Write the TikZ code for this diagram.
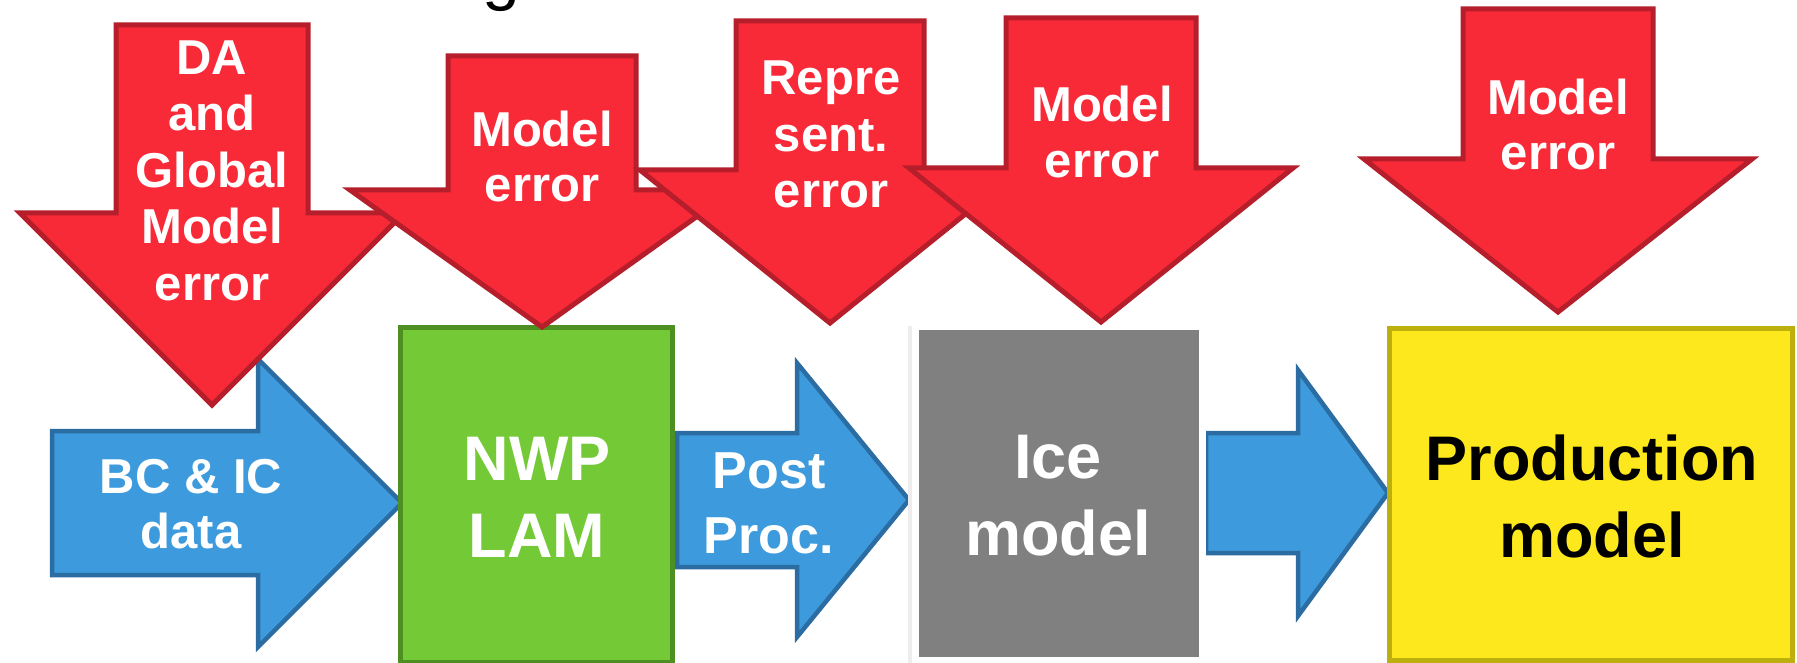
\documentclass[tikz,border=0pt]{standalone}
\usepackage{fontspec}
\setmainfont{Liberation Sans}
\definecolor{redfill}{HTML}{F92A38}
\definecolor{redline}{HTML}{B51E2A}
\definecolor{bluefill}{HTML}{3D9BDD}
\definecolor{blueline}{HTML}{2B6CA3}
\definecolor{greenfill}{HTML}{74C936}
\definecolor{greenline}{HTML}{4E8F22}
\definecolor{grayfill}{HTML}{808080}
\definecolor{yellowfill}{HTML}{FCE81C}
\definecolor{yellowline}{HTML}{BDB00E}
\newcommand{\dnarrow}[7]{%
  \draw[#1] ({#2-#3},#4) -- ({#2+#3},#4) -- ({#2+#3},#5) -- ({#2+#6},#5) -- (#2,#7) -- ({#2-#6},#5) -- ({#2-#3},#5) -- cycle;}
\newcommand{\rtarrow}[7]{%
  \draw[#1] (#4,{#2-#3}) -- (#5,{#2-#3}) -- (#5,{#2-#6}) -- (#7,#2) -- (#5,{#2+#6}) -- (#5,{#2+#3}) -- (#4,{#2+#3}) -- cycle;}
\tikzset{
  redarr/.style={fill=redfill, draw=redline, line width=5pt, line join=miter},
  bluearr/.style={fill=bluefill, draw=blueline, line width=4.5pt, line join=miter},
  redtxt/.style={text=white, align=center, anchor=base, inner sep=0pt, font=\fontsize{49}{56.5}\selectfont\bfseries},
  bluetxt/.style={text=white, align=center, anchor=base, inner sep=0pt, font=\fontsize{49}{55}\selectfont\bfseries},
  bigtxt/.style={align=center, anchor=base, inner sep=0pt, font=\fontsize{63}{77}\selectfont\bfseries},
}
\begin{document}
\begin{tikzpicture}[x=1pt, y=-1pt]
\useasboundingbox (0,0) rectangle (1797,663);
% partial title glyph
\node[anchor=base, inner sep=0pt, font=\fontsize{68}{80}\selectfont] (title) at (501,-2) {g};
% blue arrows
\rtarrow{bluearr}{503}{72}{52}{258}{144}{402}
\rtarrow{bluearr}{500}{67}{677}{797}{137}{909}
\rtarrow{bluearr}{493}{60}{1206}{1298}{123}{1388}
% boxes
\draw[fill=greenfill, draw=greenline, line width=5pt] (400,327) rectangle (672,662);
\fill[black!7] (908,326) rectangle (1203,668);
\fill[white] (912,322) rectangle (1206,664);
\fill[grayfill] (919,330) rectangle (1199,657);
\draw[fill=yellowfill, draw=yellowline, line width=5pt] (1389,328) rectangle (1792,660);
% red arrows
\dnarrow{redarr}{212}{96}{25}{213}{192}{405}
\dnarrow{redarr}{542}{94}{56}{190}{192}{327}
\dnarrow{redarr}{830}{94}{21}{170}{190}{323}
\dnarrow{redarr}{1101}{95}{18}{168}{192}{322}
\dnarrow{redarr}{1558}{95}{9}{159}{194}{312}
% texts (anchor = baseline of last line)
\node[redtxt] (r1) at (212,300) {DA\\and\\Global\\Model\\error};
\node[redtxt, font=\fontsize{49}{55}\selectfont\bfseries] (r2) at (542,202) {Model\\error};
\node[redtxt] (r3) at (831,208) {Repre\\sent.\\error};
\node[redtxt] (r4) at (1102,178) {Model\\error};
\node[redtxt, font=\fontsize{49}{55}\selectfont\bfseries] (r5) at (1558,170) {Model\\error};
\node[bluetxt] (b1) at (191,548) {BC \& IC\\data};
\node[bluetxt, font=\fontsize{52}{65}\selectfont\bfseries] (b2) at (769,553) {Post\\Proc.};
\node[bigtxt, text=white] (nwp) at (537,557) {NWP\\LAM};
\node[bigtxt, text=white] (ice) at (1058,555) {Ice\\model};
\node[bigtxt, text=black] (prod) at (1592,557) {Production\\model};
\end{tikzpicture}
\end{document}
